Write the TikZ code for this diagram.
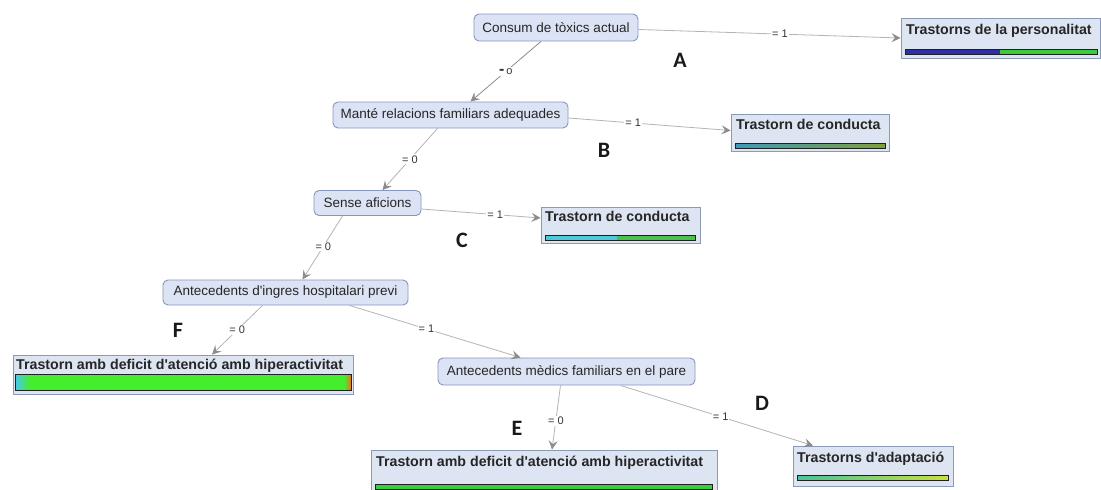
\documentclass[tikz,border=0pt]{standalone}
\usepackage{fontspec}
\setmainfont{Liberation Sans}
\newfontfamily\letterfont{Carlito}
\usetikzlibrary{arrows.meta}

\definecolor{nodefill}{HTML}{DCE3F4}
\definecolor{nodeborder}{HTML}{8796BE}
\definecolor{leaffill}{HTML}{DDE4F2}
\definecolor{leafborder}{HTML}{8A99B8}
\definecolor{edgegray}{HTML}{B4B4B4}
\definecolor{tipgray}{HTML}{8C8C8C}
\definecolor{barline}{HTML}{202020}
\definecolor{barblue}{HTML}{2E2EA8}
\definecolor{bargreen}{HTML}{3CCB3C}
\definecolor{tealA}{HTML}{3F9AB8}
\definecolor{oliveA}{HTML}{7FA03C}
\definecolor{cyanC}{HTML}{4FC9DA}
\definecolor{greenC}{HTML}{4CC24C}
\definecolor{limeF}{HTML}{44EE2C}
\definecolor{cyanF}{HTML}{48C8F0}
\definecolor{orangeF}{HTML}{F07020}
\definecolor{greenE}{HTML}{38D038}
\definecolor{tealD}{HTML}{48C49A}
\definecolor{yellowD}{HTML}{C8E040}

% straight apostrophe
\newcommand{\ap}{\textquotesingle}

\begin{document}
\begin{tikzpicture}[x=1pt,y=-1pt,
  decision/.style={draw=nodeborder, fill=nodefill, rounded corners=5pt,
    line width=0.9pt, inner sep=0pt, text=black!85,
    font=\fontsize{13.5}{16}\selectfont},
  leaf/.style={draw=leafborder, fill=leaffill, line width=0.9pt, inner sep=0pt},
  leaftext/.style={anchor=base west, inner sep=0pt, text=black!85,
    font=\bfseries\fontsize{14.2}{16}\selectfont},
  edge/.style={draw=edgegray, line width=0.8pt,
    -{Stealth[length=9pt,width=9pt,inset=3.5pt,color=tipgray]}},
  elabel/.style={fill=white, inner sep=1pt, text=black!80,
    font=\fontsize{11}{12}\selectfont},
  letter/.style={inner sep=0pt, text=black!90,
    font=\letterfont\bfseries\fontsize{22}{24}\selectfont},
  barframe/.style={draw=barline, line width=0.8pt}]

\fill[white] (0,0) rectangle (1101,490);
\useasboundingbox (0,0) rectangle (1101,490);

% decision nodes
\node[decision, minimum width=164pt, minimum height=27pt] (cons) at (556,27.5) {Consum de tòxics actual};
\node[decision, minimum width=235pt, minimum height=26pt] (mant) at (450.5,115) {Manté relacions familiars adequades};
\node[decision, minimum width=107pt, minimum height=25pt] (sense) at (367.5,203) {Sense aficions};
\node[decision, minimum width=245pt, minimum height=25pt] (ante) at (285.5,292.5) {Antecedents d\ap ingres hospitalari previ};
\node[decision, minimum width=257pt, minimum height=27pt] (med) at (566.5,371.5) {Antecedents mèdics familiars en el pare};

% leaf nodes: box, class label, distribution bar
\node[leaf, minimum width=199pt, minimum height=40pt] (lp) at (1000.5,38) {};
\node[leaftext] (lpt) at (906,34) {Trastorns de la personalitat};
\fill[barblue] (905,49) rectangle (1000,54);
\fill[bargreen] (1000,49) rectangle (1097,54);
\draw[barframe] (905,49) rectangle (1097,54);

\node[leaf, minimum width=158pt, minimum height=37pt] (lb) at (810,132.5) {};
\node[leaftext] (lbt) at (736,129) {Trastorn de conducta};
\shade[left color=tealA, right color=oliveA] (735,143) rectangle (885,148);
\draw[barframe] (735,143) rectangle (885,148);

\node[leaf, minimum width=159pt, minimum height=36pt] (lc) at (620.5,225) {};
\node[leaftext] (lct) at (545,221) {Trastorn de conducta};
\fill[cyanC] (545,235) rectangle (617,240);
\fill[greenC] (617,235) rectangle (695,240);
\draw[barframe] (545,235) rectangle (695,240);

\node[leaf, minimum width=340pt, minimum height=39pt] (lf) at (183,374.5) {};
\node[leaftext] (lft) at (16,369) {Trastorn amb deficit d\ap atenció amb hiperactivitat};
\shade[left color=cyanF, right color=limeF] (15,374) rectangle (30,390);
\fill[limeF] (30,374) rectangle (344,390);
\shade[left color=limeF, right color=orangeF] (344,374) rectangle (351,390);
\draw[barframe] (15,374) rectangle (351,390);

\node[leaf, minimum width=346pt, minimum height=40pt] (le) at (544,470) {};
\node[leaftext] (let) at (376,466) {Trastorn amb deficit d\ap atenció amb hiperactivitat};
\fill[greenE] (375,484) rectangle (712,489);
\draw[barframe] (375,484) rectangle (712,489);

\node[leaf, minimum width=160pt, minimum height=40pt] (ld) at (873,466) {};
\node[leaftext] (ldt) at (797,462) {Trastorns d\ap adaptació};
\shade[left color=tealD, right color=yellowD] (797,475) rectangle (948,480);
\draw[barframe] (797,475) rectangle (948,480);

% branches
\draw[edge] ([yshift=-2pt]cons.east) -- node[elabel,pos=0.54]{= 1} (lp.west);
\draw[edge, draw=tipgray] ([xshift=-15pt]cons.south) -- node[elabel]{{\fontsize{16}{16}\bfseries -}\,o} ([xshift=20pt]mant.north);
\draw[edge] ([yshift=-3pt]mant.east) -- node[elabel,pos=0.4]{= 1} ([yshift=2pt]lb.west);
\draw[edge] ([xshift=-13pt]mant.south) -- node[elabel,pos=0.5]{= 0} ([xshift=15pt]sense.north);
\draw[edge] ([yshift=-6pt]sense.east) -- node[elabel,pos=0.62]{= 1} ([yshift=7pt]lc.west);
\draw[edge] ([xshift=-25pt]sense.south) -- node[elabel,pos=0.48]{= 0} ([xshift=17pt]ante.north);
\draw[edge] ([xshift=-23pt]ante.south) -- node[elabel,pos=0.5]{= 0} ([xshift=29pt]lf.north);
\draw[edge] ([xshift=64pt]ante.south) -- node[elabel,pos=0.45]{= 1} ([xshift=-46pt]med.north);
\draw[edge] ([xshift=-6pt]med.south) -- node[elabel,pos=0.55]{= 0} ([xshift=8pt]le.north);
\draw[edge] ([xshift=54pt]med.south) -- node[elabel,pos=0.52]{= 1} ([xshift=-60pt]ld.north);

% markers
\node[letter] (mA) at (680,60) {A};
\node[letter] (mB) at (604,150) {B};
\node[letter] (mC) at (462,240) {C};
\node[letter] (mD) at (762,403) {D};
\node[letter] (mE) at (517,428) {E};
\node[letter] (mF) at (178,330) {F};
\end{tikzpicture}
\end{document}
